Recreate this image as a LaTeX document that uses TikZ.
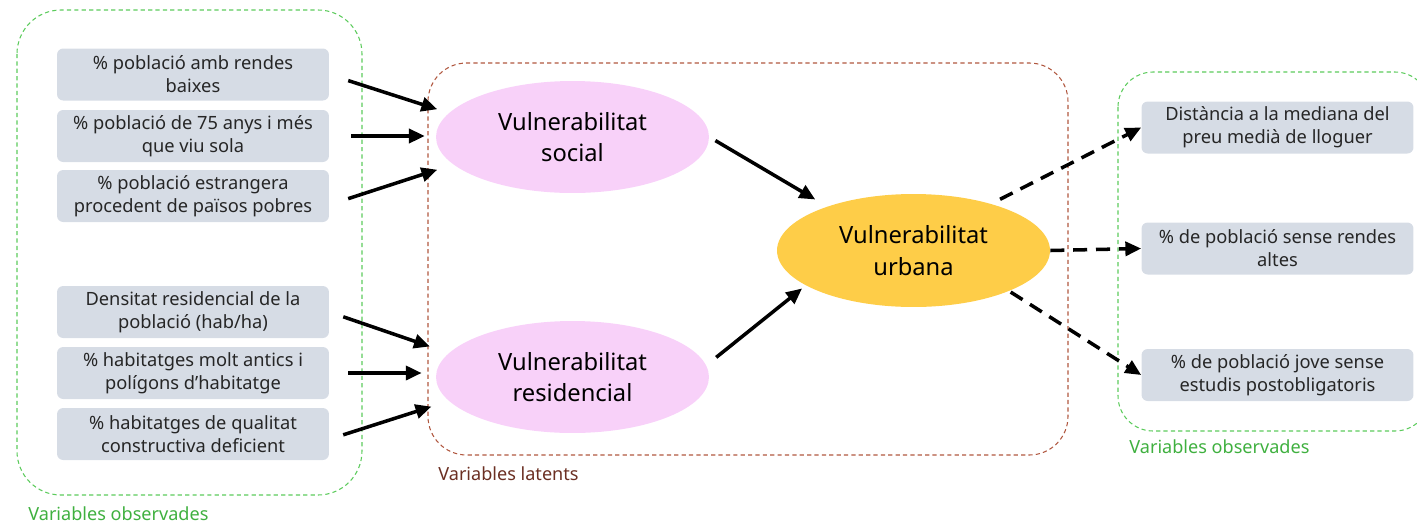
\documentclass[tikz,border=0pt]{standalone}
\usepackage{fontspec}
\setmainfont{Noto Sans}
\usepackage{tikz}
\usetikzlibrary{arrows.meta,shapes.geometric}

\definecolor{boxgray}{HTML}{D6DCE5}
\definecolor{latpink}{HTML}{F8D1F9}
\definecolor{urbyellow}{HTML}{FECD48}
\definecolor{grpgreen}{HTML}{5CCB5C}
\definecolor{lblgreen}{HTML}{3FB03F}
\definecolor{grpred}{HTML}{B0573F}
\definecolor{lblbrown}{HTML}{6B2F22}

\begin{document}
\begin{tikzpicture}[x=0.02cm,y=-0.02cm,
    obs/.style={fill=boxgray,rounded corners=3.5pt,minimum width=5.44cm,minimum height=1.04cm,
      align=center,inner sep=0pt,text=black!85,font=\fontsize{10.4}{13}\selectfont},
    lat/.style={ellipse,fill=latpink,minimum width=5.46cm,minimum height=2.24cm,inner sep=0pt,
      align=center,font=\fontsize{13.5}{18}\selectfont},
    grp/.style={dashed,dash pattern=on 2.4pt off 1.8pt,line width=0.6pt},
    arr/.style={-{Triangle[length=9pt,width=8pt]},line width=2pt},
    darr/.style={arr,dash pattern=on 8pt off 5pt},
    grplbl/.style={anchor=west,inner sep=0pt,font=\fontsize{10.3}{12}\selectfont}]
    \useasboundingbox (0,0) rectangle (1417,525);
    % groups
    \draw[grp,grpgreen,rounded corners=25pt] (17,10) rectangle (362,495);
    \draw[grp,grpred,rounded corners=22pt] (428,63) rectangle (1068,455);
    \draw[grp,grpgreen,rounded corners=20pt] (1118,72) rectangle (1430,431);
    \node[grplbl,text=lblgreen] (lblleft) at (28,514) {Variables observades};
    \node[grplbl,text=lblbrown] (lbllat) at (438,474) {Variables latents};
    \node[grplbl,text=lblgreen] (lblright) at (1129,447) {Variables observades};
    % observed variables (left)
    \node[obs] (b1) at (193,74.5) {\% població amb rendes\\baixes};
    \node[obs] (b2) at (193,136) {\% població de 75 anys i més\\que viu sola};
    \node[obs] (b3) at (193,196) {\% població estrangera\\procedent de països pobres};
    \node[obs] (b4) at (193,312) {Densitat residencial de la\\població (hab/ha)};
    \node[obs] (b5) at (193,373) {\% habitatges molt antics i\\polígons d’habitatge};
    \node[obs] (b6) at (193,434) {\% habitatges de qualitat\\constructiva deficient};
    % latent variables
    \node[lat] (soc) at (572.5,137) {Vulnerabilitat\\social};
    \node[lat] (res) at (572.5,377) {Vulnerabilitat\\residencial};
    \node[lat,fill=urbyellow,minimum height=2.26cm] (urb) at (913.5,250.5) {Vulnerabilitat\\urbana};
    % observed variables (right)
    \node[obs] (r1) at (1277.5,127.5) {Distància a la mediana del\\preu medià de lloguer};
    \node[obs] (r2) at (1277.5,248.5) {\% de població sense rendes\\altes};
    \node[obs] (r3) at (1277.5,375) {\% de població jove sense\\estudis postobligatoris};
    % arrows
    \draw[arr,shorten <=11.3pt,shorten >=6.9pt] (b1.east) -- (soc.169);
    \draw[arr,shorten <=12.5pt,shorten >=6.2pt] (b2.east) -- (b2.east -| soc.west);
    \draw[arr,shorten <=11.3pt,shorten >=9.5pt] ([yshift=-5pt]b3.east) -- (soc.193);
    \draw[arr,shorten <=8.4pt,shorten >=11.4pt] (b4.east) -- (res.169);
    \draw[arr,shorten <=10.8pt,shorten >=8pt] (b5.east) -- (b5.east -| res.west);
    \draw[arr,shorten <=8.3pt,shorten >=10.4pt] ([yshift=-3pt]b6.east) -- (res.191);
    \draw[arr,shorten <=4pt,shorten >=7.8pt] (soc.east) -- (urb.153);
    \draw[arr,shorten <=7.2pt,shorten >=2.7pt] (res.5) -- (urb.198);
    \draw[darr,shorten <=5.6pt] (urb.31) -- (r1.west);
    \draw[darr] (urb.east) -- (r2.west);
    \draw[darr,shorten <=1pt] (urb.-23) -- (r3.west);
\end{tikzpicture}
\end{document}
